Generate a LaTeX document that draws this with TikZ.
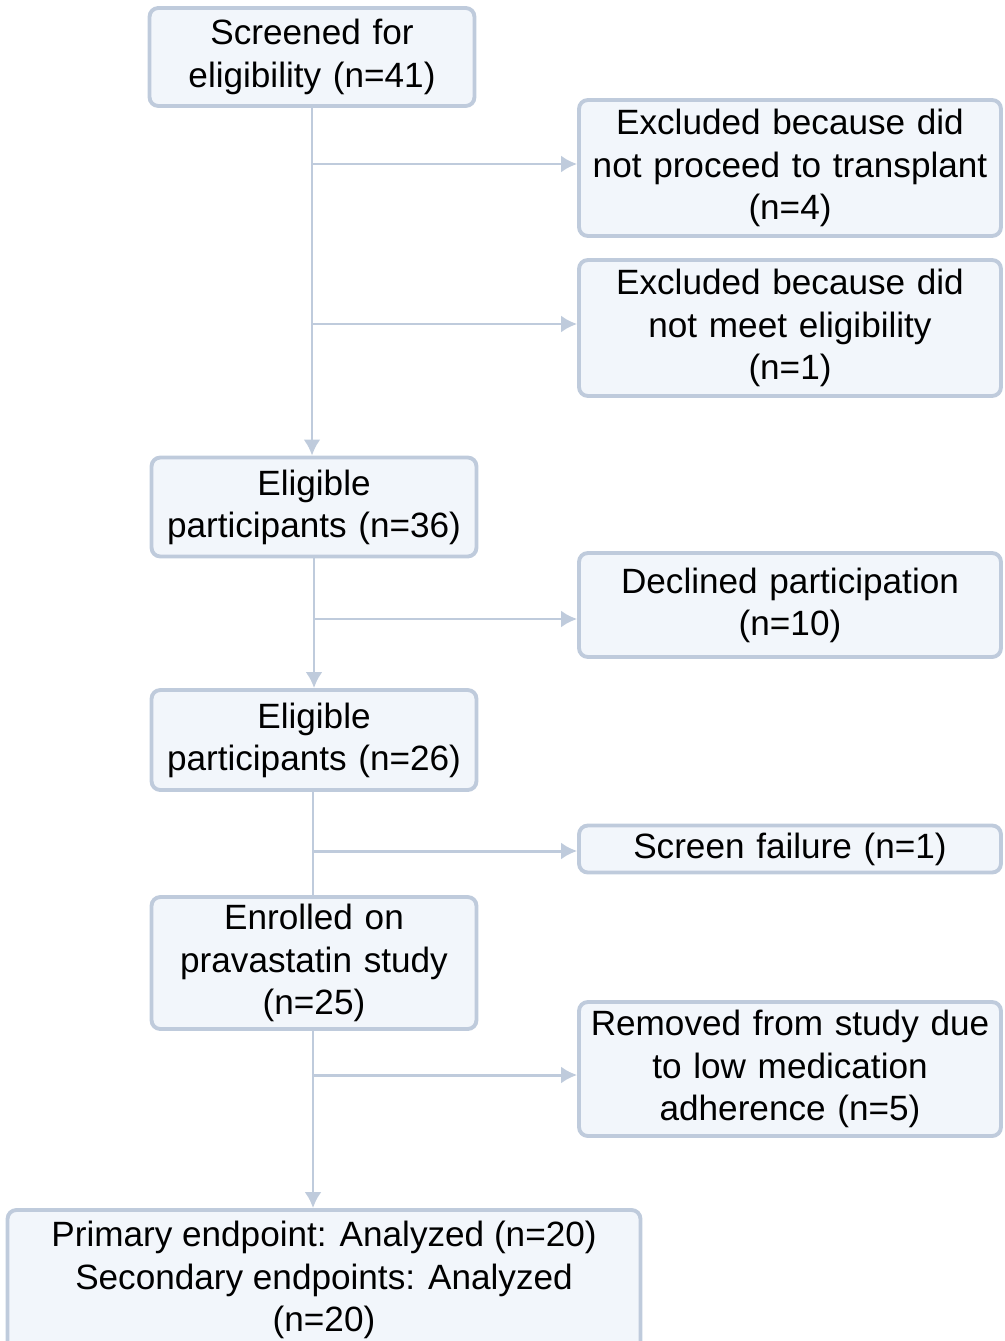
\documentclass[tikz,border=0pt]{standalone}
\usepackage{fontspec}
\setmainfont{Liberation Sans}
\usetikzlibrary{arrows.meta,positioning}
\definecolor{boxline}{HTML}{BFCBDC}
\definecolor{boxfill}{HTML}{F2F6FB}

\begin{document}
\begin{tikzpicture}[x=0.02cm,y=-0.02cm,>={Latex[length=3.2mm,width=3.4mm]},
    box/.style={draw=boxline,fill=boxfill,line width=2.2pt,rounded corners=5pt,
                align=center,inner sep=0pt,font=\fontsize{20}{24}\selectfont},
    leftbox/.style={box,minimum width=6.5cm,text width=6.4cm},
    rightbox/.style={box,minimum width=8.44cm,text width=8.4cm},
    flow/.style={->,draw=boxline,line width=1.7pt}]

                \useasboundingbox (0,0) rectangle (1004,1341);
                \clip (0,0) rectangle (1004,1341);

                % main column
                \node[leftbox,minimum height=1.96cm] (screened) at (312,57) {Screened for\\eligibility (n=41)};

                \node[leftbox,minimum height=1.98cm] (elig36) at (314,507) {Eligible\\participants (n=36)};

                \node[leftbox,minimum height=2cm] (elig26) at (314,740) {Eligible\\participants (n=26)};

                \node[leftbox,minimum height=2.64cm] (enrolled) at (314,963) {Enrolled on\\pravastatin study\\(n=25)};

                \node[box,minimum width=12.66cm,minimum height=2.8cm] (analyzed) at (324,1280) {Primary endpoint: Analyzed (n=20)\\Secondary endpoints: Analyzed\\(n=20)};

                % exclusions
                \node[rightbox,minimum height=2.72cm] (notransp) at (790,168) {Excluded because did\\not proceed to transplant\\(n=4)};

                \node[rightbox,minimum height=2.72cm] (noelig) at (790,328) {Excluded because did\\not meet eligibility\\(n=1)};

                \node[rightbox,minimum height=2.08cm] (declined) at (790,605) {Declined participation\\(n=10)};

                \node[rightbox,minimum height=0.94cm] (screenfail) at (790,849) {Screen failure (n=1)};

                \node[rightbox,minimum height=2.68cm] (removed) at (790,1069) {Removed from study due\\to low medication\\adherence (n=5)};

                % branch points
                \coordinate (b1) at (312,164);
                \coordinate (b2) at (312,324);
                \coordinate (b3) at (314,619);
                \coordinate (b4) at (313,851);
                \coordinate (b5) at (313,1075);

                \draw[flow] (screened.south) -- (screened.south |- elig36.north);
                \draw[flow] (elig36.south) -- (elig36.north |- elig26.north);
                \draw[draw=boxline,line width=1.7pt] (elig26.south -| b4) -- (enrolled.north -| b4);
                \draw[flow] (enrolled.south -| b5) -- (b5 |- analyzed.north);

                \foreach \from/\to in {b1/notransp, b2/noelig, b3/declined, b4/screenfail, b5/removed}
                    {
                    \draw[flow] (\from) -- (\from -| \to.west);
                    }

\end{tikzpicture}
\end{document}
